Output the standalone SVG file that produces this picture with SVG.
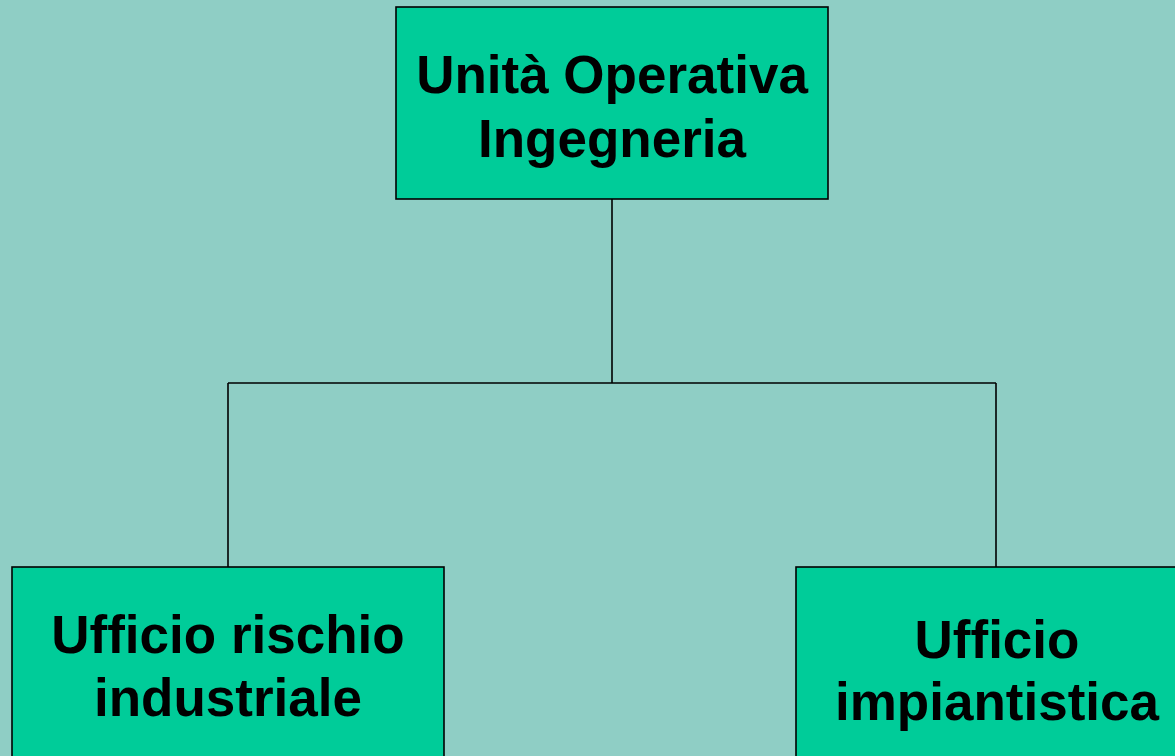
<svg xmlns="http://www.w3.org/2000/svg" width="1175" height="756" viewBox="0 0 1175 756">
<style>
.box{fill:#00CC99;stroke:#000;stroke-width:1.6}
.t{font-family:"Liberation Sans",Arial,sans-serif;font-weight:bold;font-size:53px;fill:#000;text-anchor:middle}
.c{fill:none;stroke:#000;stroke-width:1.6}
</style>
<rect width="1175" height="756" fill="#8FCEC5"/>
<g id="connectors">
<path class="c" d="M612 199V383M228 383H996M228 383V567M996 383V567"/>
</g>
<g id="n1">
<rect class="box" x="396" y="7" width="432" height="192"/>
<text class="t" x="612" y="93">Unità Operativa</text>
<text class="t" x="612" y="157">Ingegneria</text>
</g>
<g id="n2">
<rect class="box" x="12" y="567" width="432" height="200"/>
<text class="t" x="228" y="653">Ufficio rischio</text>
<text class="t" x="228" y="716">industriale</text>
</g>
<g id="n3">
<rect class="box" x="796" y="567" width="432" height="200"/>
<text class="t" x="997" y="658">Ufficio</text>
<text class="t" x="997" y="720">impiantistica</text>
</g>
</svg>
